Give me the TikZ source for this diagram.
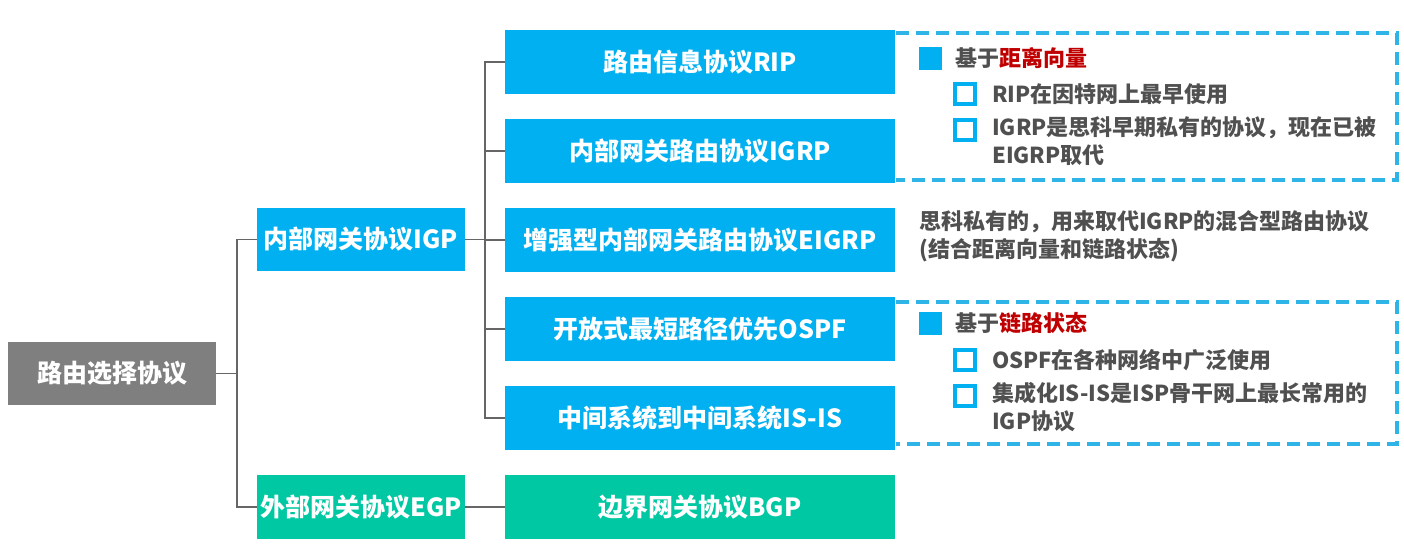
\documentclass[tikz,border=0pt]{standalone}
\usepackage{fontspec}
\setmainfont{Noto Sans CJK SC}
\definecolor{cblue}{HTML}{00B0F0}
\definecolor{cteal}{HTML}{00C8A3}
\definecolor{cgray}{HTML}{7F7F7F}
\definecolor{ctext}{HTML}{505050}
\definecolor{cred}{HTML}{C00000}
\definecolor{cline}{HTML}{666666}
\definecolor{cdash}{HTML}{2EB4E6}
\tikzset{
  box/.style={rectangle, inner sep=0pt, text=white, font=\fontsize{25}{30}\selectfont\bfseries},
  bluebox/.style={box, fill=cblue, minimum width=390pt, minimum height=64pt},
  conn/.style={draw=cline, line width=1.5pt},
  note/.style={anchor=west, inner sep=0pt, text=ctext, align=left, font=\fontsize{22}{28}\selectfont\bfseries},
  fsq/.style={rectangle, fill=cblue, minimum size=23pt, inner sep=0pt},
  hsq/.style={rectangle, draw=cblue, line width=3.5pt, fill=white, minimum size=20pt, inner sep=0pt},
  dbox/.style={draw=cdash, line width=3.5pt, dash pattern=on 13pt off 7pt},
}
\begin{document}
\begin{tikzpicture}[x=1pt,y=-1pt]
\useasboundingbox[fill=white] (0,0) rectangle (1404,552);
% main nodes
\node[box, fill=cgray, minimum width=208pt, minimum height=63pt] (root) at (112,373.5) {路由选择协议};
\node[box, fill=cblue, minimum width=208pt, minimum height=63pt] (igp) at (361,239.5) {内部网关协议IGP};
\node[box, fill=cteal, minimum width=208pt, minimum height=64pt] (egp) at (361,507) {外部网关协议EGP};
\node[bluebox] (rip) at (700,62) {路由信息协议RIP};
\node[bluebox] (igrp) at (700,151) {内部网关路由协议IGRP};
\node[bluebox] (eigrp) at (700,240) {增强型内部网关路由协议EIGRP};
\node[bluebox] (ospf) at (700,329) {开放式最短路径优先OSPF};
\node[bluebox] (isis) at (700,418) {中间系统到中间系统IS-IS};
\node[box, fill=cteal, minimum width=390pt, minimum height=64pt] (bgp) at (700,507) {边界网关协议BGP};
% trunks
\coordinate (t1) at (237,0);
\coordinate (t2) at (485,0);
\draw[conn] (root.east) -- (root.east -| t1);
\draw[conn] (igp.west) -- (igp.west -| t1) -- (egp.west -| t1) -- (egp.west);
\draw[conn] (igp.east) -- (igp.east -| t2);
\draw[conn] (rip.west) -- (rip.west -| t2) -- (isis.west -| t2) -- (isis.west);
\draw[conn] (igrp.west) -- (igrp.west -| t2);
\draw[conn] (eigrp.west) -- (eigrp.west -| t2);
\draw[conn] (ospf.west) -- (ospf.west -| t2);
\draw[conn] (egp.east) -- (bgp.west);
% dashed boxes (open on the left)
\coordinate (d1a) at (896,33);
\coordinate (d1b) at (1397,33);
\coordinate (d1c) at (1397,180);
\coordinate (d1d) at (896,180);
\draw[dbox] (d1a) -- (d1b) -- (d1c) -- (d1d);
\coordinate (d2a) at (896,302);
\coordinate (d2b) at (1397,302);
\coordinate (d2c) at (1397,444);
\coordinate (d2d) at (896,444);
\draw[dbox] (d2a) -- (d2b) -- (d2c) -- (d2d);
% notes for distance vector
\node[fsq] (f1) at (930,58) {};
\node[note] (n1) at (955,58) {基于\textcolor{cred}{距离向量}};
\node[hsq] (h1) at (965,94) {};
\node[note] (n2) at (992,94) {RIP在因特网上最早使用};
\node[hsq] (h2) at (965,130) {};
\node[note, anchor=north west] (n3) at (992,116) {IGRP是思科早期私有的协议，现在已被\\EIGRP取代};
% EIGRP note
\node[note, anchor=north west] (n4) at (919,210) {思科私有的，用来取代IGRP的混合型路由协议\\(结合距离向量和链路状态)};
% notes for link state
\node[fsq] (f2) at (930,323) {};
\node[note] (n5) at (955,323) {基于\textcolor{cred}{链路状态}};
\node[hsq] (h3) at (965,360) {};
\node[note] (n6) at (992,360) {OSPF在各种网络中广泛使用};
\node[hsq] (h4) at (965,396) {};
\node[note, anchor=north west] (n7) at (992,382) {集成化IS-IS是ISP骨干网上最长常用的\\IGP协议};
\end{tikzpicture}
\end{document}
